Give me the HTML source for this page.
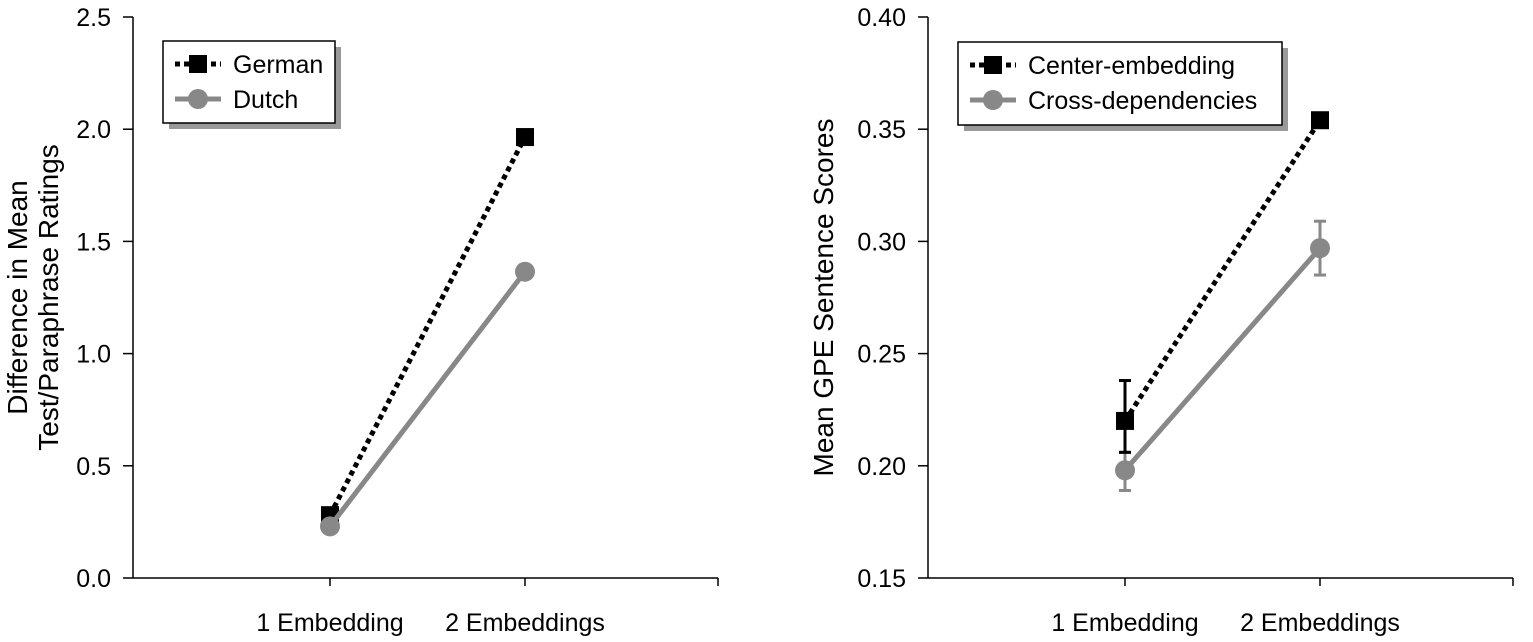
<!DOCTYPE html>
<html><head><meta charset="utf-8"><style>
body{margin:0;background:#fff;}
svg{display:block;font-family:"Liberation Sans",sans-serif;}
</style></head><body>
<svg id="s" width="1533" height="642" viewBox="0 0 1533 642"></svg>
<script>
const categories=["1 Embedding","2 Embeddings"];
const germanVals=[0.28,1.965];
const dutchVals=[0.23,1.365];
const leftTicks=[0,0.5,1.0,1.5,2.0,2.5];
const centerVals=[0.22,0.354];
const centerErrLo=[0.206,0.351];
const centerErrHi=[0.238,0.357];
const crossVals=[0.198,0.297];
const crossErrLo=[0.189,0.285];
const crossErrHi=[0.206,0.309];
const rightTicks=[0.15,0.20,0.25,0.30,0.35,0.40];
const NS="http://www.w3.org/2000/svg";
const svg=document.getElementById('s');
function mk(tag,attrs,parent,text){const e=document.createElementNS(NS,tag);for(const k in attrs)e.setAttribute(k,attrs[k]);if(text!==undefined)e.textContent=text;(parent||svg).appendChild(e);return e;}
function panel(cfg){
  const g=mk('g',{});
  
  
  const top=17,bot=578;
  const y=v=>bot-(v-cfg.min)/(cfg.max-cfg.min)*(bot-top);
  const x=i=>cfg.x0+197+i*195;
  const ax=mk('line',{x1:cfg.x0,y1:top,x2:cfg.x0,y2:bot,stroke:'#000','stroke-width':1.5},g);
  
  const xa=mk('line',{x1:cfg.x0,y1:bot,x2:cfg.x0+585,y2:bot,stroke:'#000','stroke-width':1.5},g);
  
  cfg.ticks.forEach(t=>{
    mk('line',{x1:cfg.x0-10,y1:y(t),x2:cfg.x0,y2:y(t),stroke:'#000','stroke-width':1.5},g);
    const tl=mk('text',{x:cfg.x0-22,y:y(t)+9,'text-anchor':'end','font-size':25},g,t.toFixed(cfg.dec));
    
  });
  categories.forEach((c,i)=>{
    mk('line',{x1:x(i),y1:bot,x2:x(i),y2:bot+8,stroke:'#000','stroke-width':1.5},g);
    const cl=mk('text',{x:x(i),y:631,'text-anchor':'middle','font-size':25},g,c);
    
  });
  mk('line',{x1:cfg.x0+585,y1:bot,x2:cfg.x0+585,y2:bot+8,stroke:'#000','stroke-width':1.5},g);
  const yt=mk('text',{transform:`translate(${cfg.x0-cfg.titleOff},${(top+bot)/2}) rotate(-90)`,'text-anchor':'middle','font-size':28},g);
  
  cfg.title.forEach((l,i)=>mk('tspan',{x:0,dy:i?31:(cfg.title.length>1?-16:0)},yt,l));
  const s1=cfg.s1, s2=cfg.s2;
  [[s2,'#888'],[s1,'#000']].forEach(([s,col])=>{if(!s.lo)return;s.vals.forEach((v,i)=>{
    const e=mk('g',{},g);
    mk('line',{x1:x(i),y1:y(s.lo[i]),x2:x(i),y2:y(s.hi[i]),stroke:col,'stroke-width':3},e);
    mk('line',{x1:x(i)-6,y1:y(s.lo[i]),x2:x(i)+6,y2:y(s.lo[i]),stroke:col,'stroke-width':3},e);
    mk('line',{x1:x(i)-6,y1:y(s.hi[i]),x2:x(i)+6,y2:y(s.hi[i]),stroke:col,'stroke-width':3},e);
  });});
  const l1=mk('line',{x1:x(0),y1:y(s1.vals[0]),x2:x(1),y2:y(s1.vals[1]),stroke:'#000','stroke-width':5,'stroke-dasharray':'5 4'},g);
  
  s1.vals.forEach((v,i)=>{const r=mk('rect',{x:x(i)-9,y:y(v)-9,width:18,height:18,fill:'#000'},g);});
  const l2=mk('line',{x1:x(0),y1:y(s2.vals[0]),x2:x(1),y2:y(s2.vals[1]),stroke:'#888','stroke-width':5},g);
  
  s2.vals.forEach((v,i)=>{const c=mk('circle',{cx:x(i),cy:y(v),r:10,fill:'#888'},g);});
  const L=cfg.leg;
  const lg=mk('g',{},g);
  mk('rect',{x:L.x+6,y:L.y+6,width:L.w,height:L.h,fill:'#999'},lg);
  mk('rect',{x:L.x,y:L.y,width:L.w,height:L.h,fill:'#fff',stroke:'#000','stroke-width':1.5},lg);
  const ly1=L.y+23,ly2=L.y+58;
  mk('line',{x1:L.x+12,y1:ly1,x2:L.x+58,y2:ly1,stroke:'#000','stroke-width':5,'stroke-dasharray':'5 4'},lg);
  mk('rect',{x:L.x+26,y:ly1-9,width:18,height:18,fill:'#000'},lg);
  mk('line',{x1:L.x+12,y1:ly2,x2:L.x+58,y2:ly2,stroke:'#888','stroke-width':5},lg);
  mk('circle',{cx:L.x+35,cy:ly2,r:10,fill:'#888'},lg);
  mk('text',{x:L.x+70,y:ly1+9,'font-size':25},lg,s1.label);
  mk('text',{x:L.x+70,y:ly2+9,'font-size':25},lg,s2.label);
}
panel({name:'left-chart',x0:133,min:0,max:2.5,ticks:leftTicks,dec:1,titleOff:90,title:['Difference in Mean','Test/Paraphrase Ratings'],
  s1:{key:'german',label:'German',vals:germanVals},s2:{key:'dutch',label:'Dutch',vals:dutchVals},
  leg:{x:163,y:41,w:172,h:82}});
panel({name:'right-chart',x0:928,min:0.15,max:0.40,ticks:rightTicks,dec:2,titleOff:95,title:['Mean GPE Sentence Scores'],
  s1:{key:'center-embedding',label:'Center-embedding',vals:centerVals,lo:centerErrLo,hi:centerErrHi},
  s2:{key:'cross-dependencies',label:'Cross-dependencies',vals:crossVals,lo:crossErrLo,hi:crossErrHi},
  leg:{x:958,y:42,w:324,h:83}});
</script>
</body></html>
